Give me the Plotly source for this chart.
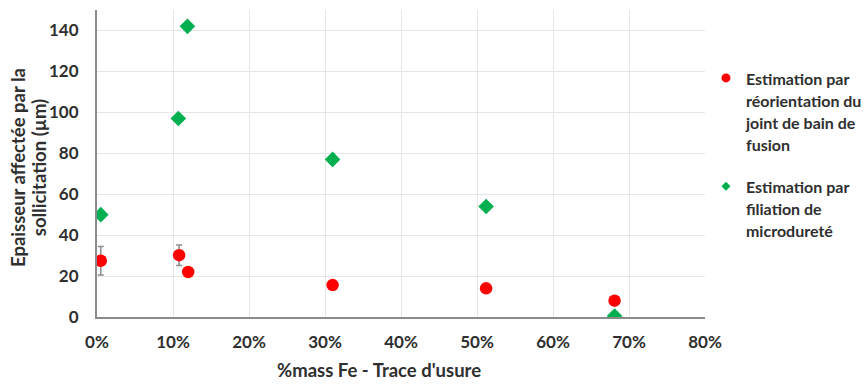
import plotly.graph_objects as go

# Data
fe_red = [0.005, 0.108, 0.120, 0.310, 0.512, 0.681]
ep_red = [27.5, 30.2, 22.0, 15.6, 14.0, 8.0]
err_red = [7.0, 5.0, None, None, None, None]

fe_green = [0.005, 0.107, 0.119, 0.310, 0.512, 0.681]
ep_green = [50.0, 97.0, 142.0, 77.0, 54.0, 0.5]

name_red = ["Estimation par", "réorientation du", "joint de bain de", "fusion"]
name_green = ["Estimation par", "filiation de", "microdureté"]

x_ticks = [0, 0.1, 0.2, 0.3, 0.4, 0.5, 0.6, 0.7, 0.8]
y_ticks = [0, 20, 40, 60, 80, 100, 120, 140]

x_title = "%mass Fe - Trace d'usure"
y_title = ["Epaisseur affectée par la", "sollicitation (µm)"]

FONT = "Lato"
TXT = "#2f2f2f"

# plot-area geometry in pixels (for placing the free titles)
L, R, T, B = 97, 159, 10, 68
PW, PH = 864 - L - R, 385 - T - B


def rich(lines, px):
    return "<br>".join('<span style="font-size:%spx">%s</span>' % (px, s) for s in lines)


fig = go.Figure()

fig.add_trace(go.Scatter(
    x=fe_red, y=ep_red, mode="markers", showlegend=False,
    marker=dict(symbol="circle", size=12.5, color="#FF0000"),
    error_y=dict(type="data", array=err_red, color="#8c8c8c", thickness=1.5, width=3),
))
fig.add_trace(go.Scatter(
    x=fe_green, y=ep_green, mode="markers", showlegend=False,
    marker=dict(symbol="diamond", size=12, color="#00B050"),
))
# legend entries
fig.add_trace(go.Scatter(
    x=[None], y=[None], mode="markers", name=rich(name_red, 16), legendgroup="a",
    marker=dict(symbol="circle", size=9, color="#FF0000"),
))
fig.add_trace(go.Scatter(
    x=[None], y=[None], mode="markers", name=rich(name_green, 16), legendgroup="b",
    marker=dict(symbol="diamond", size=7, color="#00B050"),
))

fig.update_layout(
    width=864, height=385,
    margin=dict(l=L, r=R, t=T, b=B, autoexpand=False),
    paper_bgcolor="white", plot_bgcolor="white",
    font=dict(family=FONT, color=TXT, size=15),
    legend=dict(
        x=1.0016, y=0.836, xanchor="left", yanchor="top",
        font=dict(family=FONT, size=17, color=TXT, weight="bold"),
        valign="top", tracegroupgap=17, bgcolor="rgba(0,0,0,0)",
    ),
    xaxis=dict(
        range=[0, 0.8], tickvals=x_ticks, tickformat=".0%",
        showgrid=True, gridcolor="#e6e6e6", gridwidth=1,
        showline=True, linecolor="#8a8a8a", linewidth=2,
        zeroline=False, ticks="", ticklabelstandoff=9, automargin=False,
        tickfont=dict(family=FONT, size=17, color=TXT, weight="bold"),
    ),
    yaxis=dict(
        range=[0, 150], tickvals=y_ticks,
        showgrid=True, gridcolor="#e6e6e6", gridwidth=1,
        showline=True, linecolor="#8a8a8a", linewidth=2,
        zeroline=False, ticks="", ticklabelstandoff=13, automargin=False,
        tickfont=dict(family=FONT, size=17, color=TXT, weight="bold"),
    ),
    annotations=[
        dict(
            text=x_title, xref="paper", yref="paper",
            x=(379 - L) / PW, y=-(370 - (T + PH)) / PH,
            xanchor="center", yanchor="middle", showarrow=False,
            font=dict(family=FONT, size=18.5, color=TXT, weight="bold"),
        ),
        dict(
            text=rich(y_title, 18.5), xref="paper", yref="paper",
            x=(28.5 - L) / PW, y=((T + PH) - 167.5) / PH,
            xanchor="center", yanchor="middle", showarrow=False, textangle=-90,
            font=dict(family=FONT, size=16, color=TXT, weight="bold"),
        ),
    ],
)

fig.write_html("out.html", config={"displayModeBar": False},
               post_script="document.body.style.margin='0';")
